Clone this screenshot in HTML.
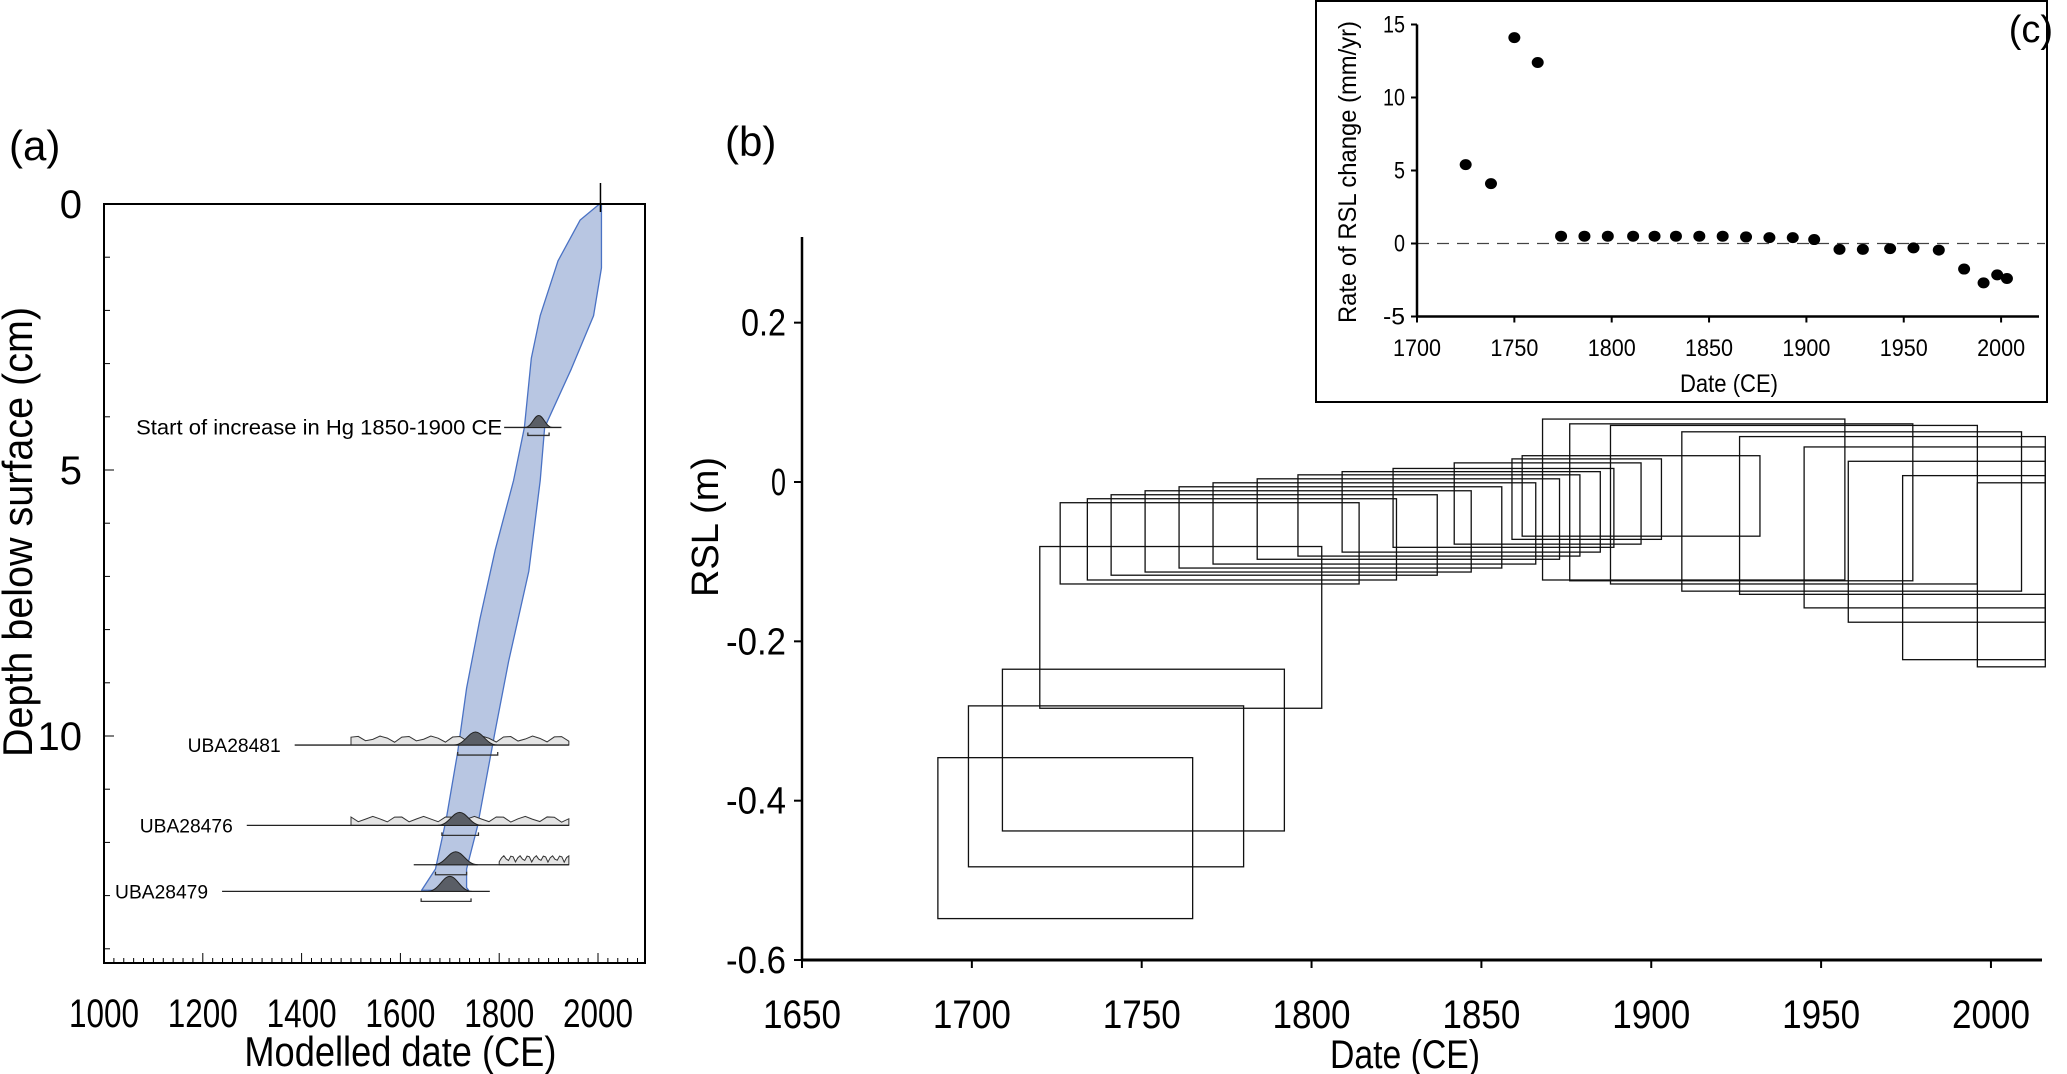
<!DOCTYPE html>
<html><head><meta charset="utf-8">
<style>
html,body{margin:0;padding:0;background:#fff;}
svg{display:block;}
text{font-family:"Liberation Sans",sans-serif;fill:#000;}
</style></head>
<body>
<svg id="fig" width="2067" height="1074" viewBox="0 0 2067 1074" xmlns="http://www.w3.org/2000/svg">
  <g id="pa"></g>
  <g id="pb"></g>
  <g id="pc"></g>
</svg>
<script>
// ---------- Panel (a) data ----------
const aXTicks = [1000,1200,1400,1600,1800,2000];
const aYTicks = [0,5,10];
const bandLeftYear  = [2003,1964,1919,1883,1865,1851,1829,1792,1761,1734,1716,1693,1671,1643];
const bandLeftDepth = [0,0.3,1.07,2.1,2.9,4.2,5.2,6.5,7.8,9.1,10.3,11.55,12.5,12.9];
const bandRightYear  = [2007,2007,1991,1946,1892,1883,1860,1819,1792,1756,1734,1734,1738];
const bandRightDepth = [0,1.2,2.1,3.1,4.2,5.2,6.9,8.6,9.9,11.7,12.5,12.85,12.9];
const sampleLabels = ["Start of increase in Hg 1850-1900 CE","UBA28481","UBA28476","","UBA28479"];
const sampleDepth  = [4.2,10.17,11.68,12.42,12.92];
const samplePeak   = [1880,1752,1720,1712,1700];
const sampleLineFrom = [1810,1386,1289,1627,1239];
const sampleLineTo   = [1926,1941,1941,1941,1781];
const sampleBrFrom = [1858,1716,1684,1671,1642];
const sampleBrTo   = [1901,1797,1758,1734,1743];

// ---------- Panel (b) data ----------
const bXTicks = [1650,1700,1750,1800,1850,1900,1950,2000];
const bYTicks = [0.2,0,-0.2,-0.4,-0.6];
const boxX1 = [1690,1699,1709,1720,1726,1734,1741,1751,1761,1771,1784,1796,1809,1824,1842,1859,1862,1868,1876,1888,1909,1926,1945,1958,1974,1996];
const boxX2 = [1765,1780,1792,1803,1814,1825,1837,1847,1856,1866,1873,1879,1885,1889,1897,1903,1932,1957,1977,1996,2009,2016,2016,2016,2016,2016];
const boxTop = [-0.346,-0.281,-0.235,-0.081,-0.026,-0.021,-0.016,-0.011,-0.006,-0.001,0.004,0.009,0.013,0.017,0.024,0.029,0.033,0.079,0.073,0.071,0.063,0.057,0.044,0.026,0.008,-0.001];
const boxBot = [-0.548,-0.483,-0.438,-0.284,-0.128,-0.123,-0.117,-0.113,-0.108,-0.103,-0.097,-0.093,-0.088,-0.082,-0.078,-0.072,-0.068,-0.123,-0.124,-0.128,-0.137,-0.141,-0.158,-0.176,-0.223,-0.232];

// ---------- Panel (c) data ----------
const cXTicks = [1700,1750,1800,1850,1900,1950,2000];
const cYTicks = [15,10,5,0,-5];
const rateYear = [1725,1738,1750,1762,1774,1786,1798,1811,1822,1833,1845,1857,1869,1881,1893,1904,1917,1929,1943,1955,1968,1981,1991,1998,2003];
const rateVal  = [5.4,4.1,14.1,12.4,0.5,0.5,0.5,0.5,0.5,0.5,0.5,0.5,0.45,0.4,0.4,0.27,-0.4,-0.4,-0.35,-0.3,-0.45,-1.75,-2.7,-2.15,-2.4];

const NS="http://www.w3.org/2000/svg";
function mk(parent,tag,attrs,txt){const e=document.createElementNS(NS,tag);for(const k in attrs)e.setAttribute(k,attrs[k]);if(txt!==undefined)e.textContent=txt;parent.appendChild(e);return e;}
function fit(e,len){e.setAttribute('textLength',len);e.setAttribute('lengthAdjust','spacingAndGlyphs');return e;}

// ===== Panel A =====
(function(){
  const g=document.getElementById('pa');
  const ax=y=>104+(y-1000)*0.494;
  const ay=d=>204+d*53.2;
  let t=mk(g,'text',{x:9,y:160,'font-size':42},'(a)');
  
  
  let pts=[];
  for(let i=0;i<bandLeftYear.length;i++)pts.push(ax(bandLeftYear[i])+','+ay(bandLeftDepth[i]));
  for(let i=bandRightYear.length-1;i>=0;i--)pts.push(ax(bandRightYear[i])+','+ay(bandRightDepth[i]));
  let band=mk(g,'polygon',{points:pts.join(' '),fill:'#b8c6e2',stroke:'#4a72c4','stroke-width':1.3,'stroke-linejoin':'round'});
  
  
  mk(g,'line',{x1:ax(2005),y1:183,x2:ax(2005),y2:212,stroke:'#000','stroke-width':1.5});
  for(let i=0;i<sampleDepth.length;i++){
    const y0=ay(sampleDepth[i]);
    const sg=mk(g,'g',{});
    
    
    if(i>=1 && i!==4){
      const lx1=ax(i===3?1800:1500), lx2=ax(1941);
      let d='M'+lx1+','+y0;
      const n=30;
      for(let k=0;k<=n;k++){const xx=lx1+(lx2-lx1)*k/n;const h=2+7*Math.abs(Math.sin(k*0.9+i));d+=' L'+xx+','+(y0-h);}
      d+=' L'+lx2+','+y0+' Z';
      mk(sg,'path',{d:d,fill:'#e4e4e4',stroke:'#333','stroke-width':1});
    }
    mk(sg,'line',{x1:ax(sampleLineFrom[i]),y1:y0,x2:ax(sampleLineTo[i]),y2:y0,stroke:'#222','stroke-width':1.3});
    const px=ax(samplePeak[i]), w=i===0?14:22, h=i===0?12:(i===4?15:13);
    mk(sg,'path',{d:`M${px-w},${y0} C${px-w/2},${y0} ${px-w/3},${y0-h} ${px},${y0-h} C${px+w/3},${y0-h} ${px+w/2},${y0} ${px+w},${y0} Z`,fill:'#5a5e66',stroke:'#222','stroke-width':1});
    const by=y0+(i===0?8:10);
    mk(sg,'path',{d:`M${ax(sampleBrFrom[i])},${by-3} V${by} H${ax(sampleBrTo[i])} V${by-3}`,fill:'none',stroke:'#333','stroke-width':1.3});
    if(sampleLabels[i]){
      const lab=mk(g,'text',{x:ax(sampleLineFrom[i])-(i===0?2:14),y:y0+7,'font-size':i===0?21:19,'text-anchor':'end'},sampleLabels[i]);
      fit(lab,i===0?366:93);
      
      
    }
  }
  const fr=mk(g,'rect',{x:104,y:204,width:541,height:759,fill:'none',stroke:'#000','stroke-width':2});
  
  
  for(let yr=1000;yr<=2090;yr+=20){mk(g,'line',{x1:ax(yr),y1:963,x2:ax(yr),y2:yr%200===0?953:958,stroke:'#000','stroke-width':1});}
  for(let d=0;d<=14;d+=1){mk(g,'line',{x1:104,y1:ay(d),x2:d%5===0?114:110,y2:ay(d),stroke:'#000','stroke-width':1});}
  aXTicks.forEach(v=>{const e=mk(g,'text',{x:ax(v),y:1027,'font-size':40,'text-anchor':'middle'},v);
    fit(e,70);
    
    });
  aYTicks.forEach(v=>{const e=mk(g,'text',{x:82,y:ay(v)+14,'font-size':40,'text-anchor':'end'},v);
    
    });
  let xt=mk(g,'text',{x:ax(1600),y:1066,'font-size':42,'text-anchor':'middle'},'Modelled date (CE)');
  fit(xt,312);
  
  
  let yt=mk(g,'text',{x:0,y:0,'font-size':42,'text-anchor':'middle',transform:'translate(32,532) rotate(-90)'},'Depth below surface (cm)');
  fit(yt,450);
  
  
})();

// ===== Panel B =====
(function(){
  const g=document.getElementById('pb');
  const bx=y=>802+(y-1650)*3.397;
  const by=v=>482-v*796.7;
  let t=mk(g,'text',{x:725,y:156,'font-size':42},'(b)');
  
  
  for(let i=0;i<boxX1.length;i++){
    const r=mk(g,'rect',{x:bx(boxX1[i]),y:by(boxTop[i]),width:bx(boxX2[i])-bx(boxX1[i]),height:by(boxBot[i])-by(boxTop[i]),fill:'none',stroke:'#111','stroke-width':1.3});
    
    
  }
  const ya=mk(g,'line',{x1:802,y1:237,x2:802,y2:960,stroke:'#000','stroke-width':2.5});
  
  
  const xa=mk(g,'line',{x1:802,y1:960,x2:2042,y2:960,stroke:'#000','stroke-width':3});
  
  
  bYTicks.forEach(v=>{mk(g,'line',{x1:794,y1:by(v),x2:802,y2:by(v),stroke:'#000','stroke-width':2});
    const s=v===0?'0':v.toFixed(1);
    const e=mk(g,'text',{x:786,y:by(v)+13,'font-size':38,'text-anchor':'end'},s);
    fit(e,s.length*15);
    
    });
  bXTicks.forEach(v=>{mk(g,'line',{x1:bx(v),y1:960,x2:bx(v),y2:968,stroke:'#000','stroke-width':2});
    const e=mk(g,'text',{x:bx(v),y:1028,'font-size':40,'text-anchor':'middle'},v);
    fit(e,78);
    
    });
  let xt=mk(g,'text',{x:1405,y:1068,'font-size':40,'text-anchor':'middle'},'Date (CE)');
  fit(xt,150);
  
  
  let yt=mk(g,'text',{x:0,y:0,'font-size':38,'text-anchor':'middle',transform:'translate(718,527) rotate(-90)'},'RSL (m)');
  
  
})();

// ===== Panel C =====
(function(){
  const g=document.getElementById('pc');
  const cx=y=>1417+(y-1700)*1.947;
  const cy=v=>243.5-v*14.6;
  const fr=mk(g,'rect',{x:1316,y:1,width:731,height:401,fill:'#fff',stroke:'#000','stroke-width':2});
  
  
  let t=mk(g,'text',{x:2053,y:42,'font-size':38,'text-anchor':'end'},'(c)');
  
  
  const z=mk(g,'line',{x1:1417,y1:cy(0),x2:2045,y2:cy(0),stroke:'#444','stroke-width':1.3,'stroke-dasharray':'12,8'});
  
  
  mk(g,'line',{x1:1417,y1:cy(15),x2:1417,y2:cy(-5),stroke:'#000','stroke-width':2.5});
  mk(g,'line',{x1:1417,y1:cy(-5),x2:2039,y2:cy(-5),stroke:'#000','stroke-width':2.5});
  cYTicks.forEach(v=>{mk(g,'line',{x1:1411,y1:cy(v),x2:1417,y2:cy(v),stroke:'#000','stroke-width':2});
    const s=String(v);
    const e=mk(g,'text',{x:1405,y:cy(v)+8,'font-size':24,'text-anchor':'end'},s);
    fit(e,s.length*11);
    
    });
  cXTicks.forEach(v=>{mk(g,'line',{x1:cx(v),y1:cy(-5),x2:cx(v),y2:cy(-5)+6,stroke:'#000','stroke-width':2});
    const e=mk(g,'text',{x:cx(v),y:356,'font-size':24,'text-anchor':'middle'},v);
    fit(e,48);
    
    });
  for(let i=0;i<rateYear.length;i++){
    const c=mk(g,'ellipse',{cx:cx(rateYear[i]),cy:cy(rateVal[i]),rx:6,ry:5.5,fill:'#000'});
    
    
  }
  let xt=mk(g,'text',{x:1729,y:392,'font-size':25,'text-anchor':'middle'},'Date (CE)');
  fit(xt,98);
  
  
  let yt=mk(g,'text',{x:0,y:0,'font-size':25,'text-anchor':'middle',transform:'translate(1356,172) rotate(-90)'},'Rate of RSL change (mm/yr)');
  fit(yt,302);
  
  
})();
</script>
</body></html>
